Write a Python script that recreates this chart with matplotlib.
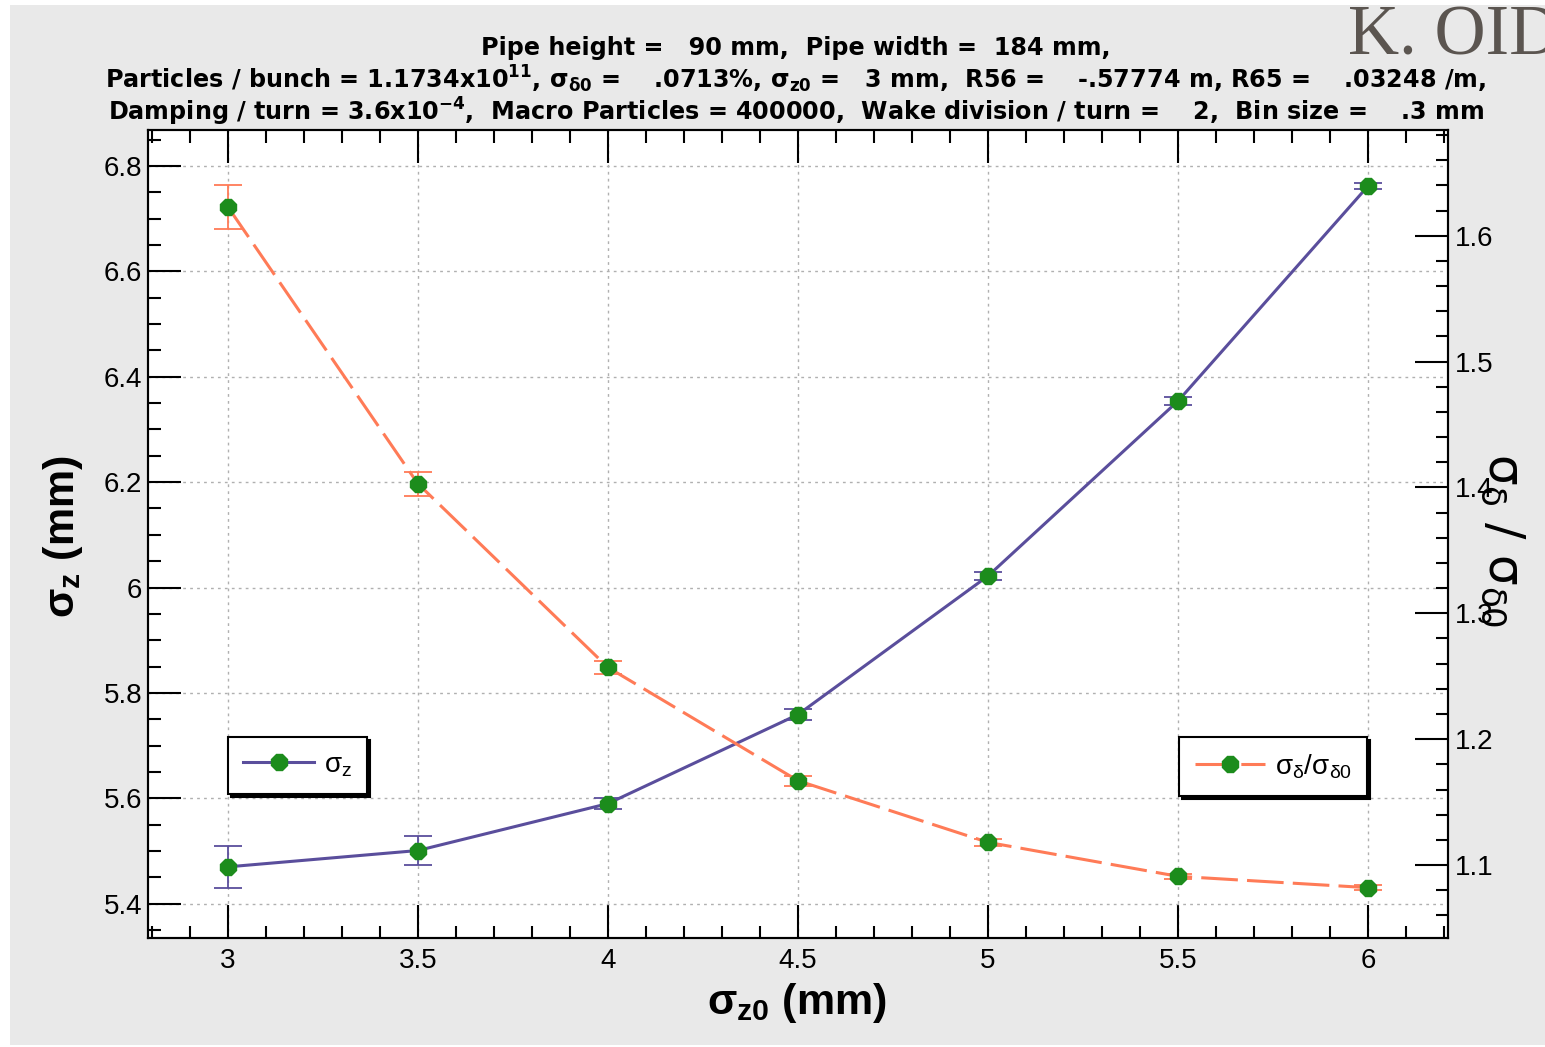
import matplotlib
matplotlib.use('Agg')
import matplotlib.pyplot as plt
from matplotlib.ticker import MultipleLocator, FormatStrFormatter
from matplotlib.patches import Rectangle

# data
sigma_z0 = [3.0, 3.5, 4.0, 4.5, 5.0, 5.5, 6.0]
sigma_z = [5.470, 5.501, 5.590, 5.759, 6.022, 6.354, 6.762]
sigma_z_err = [0.040, 0.028, 0.011, 0.010, 0.008, 0.008, 0.005]
ratio = [1.623, 1.403, 1.257, 1.167, 1.118, 1.091, 1.082]
ratio_err = [0.0175, 0.0095, 0.005, 0.004, 0.003, 0.002, 0.002]

x_ticks = [3, 3.5, 4, 4.5, 5, 5.5, 6]
x_tick_labels = ['3', '3.5', '4', '4.5', '5', '5.5', '6']

title_lines = [
    'Pipe height =   90 mm,  Pipe width =  184 mm,',
    'Particles / bunch = 1.1734x10$^{11}$, σ$_{δ0}$ =    .0713%, σ$_{z0}$ =   3 mm,  R56 =    -.57774 m, R65 =    .03248 /m,',
    'Damping / turn = 3.6x10$^{-4}$,  Macro Particles = 400000,  Wake division / turn =    2,  Bin size =    .3 mm',
]

purple = '#5a4e9c'
orange = '#ff7b57'
green = '#1c8c1c'

plt.rcParams['font.family'] = ['Liberation Sans', 'DejaVu Sans']
plt.rcParams['mathtext.fontset'] = 'custom'
plt.rcParams['mathtext.rm'] = 'Liberation Sans'
plt.rcParams['mathtext.default'] = 'regular'

fig = plt.figure(figsize=(15.45, 10.47), dpi=100)
fig.patch.set_facecolor('white')
fig.patches.append(Rectangle((0.0065, 0.002), 0.9935, 0.993, transform=fig.transFigure,
                             facecolor='#e9e9e9', edgecolor='none', zorder=-10))

ax = fig.add_axes([0.0958, 0.1041, 0.8414, 0.7717])
ax.set_facecolor('white')
ax2 = ax.twinx()

# sigma_z on left axis
ax.errorbar(sigma_z0, sigma_z, yerr=sigma_z_err, fmt='none', ecolor=purple,
            elinewidth=1.3, capsize=10, capthick=1.3, zorder=3)
l1, = ax.plot(sigma_z0, sigma_z, color=purple, lw=2.2, marker='8', ms=13,
              mfc=green, mec=green, zorder=4, label='σ$_z$')

# ratio on right axis
ax2.errorbar(sigma_z0, ratio, yerr=ratio_err, fmt='none', ecolor=orange,
             elinewidth=1.3, capsize=10, capthick=1.3, zorder=3)
l2, = ax2.plot(sigma_z0, ratio, color=orange, lw=2.2, ls=(0, (12, 3)), marker='8', ms=13,
               mfc=green, mec=green, zorder=4, label='σ$_δ$/σ$_{δ0}$')

ax.set_xlim(2.79, 6.21)
ax.set_ylim(5.335, 6.868)
ax2.set_ylim(1.042, 1.684)

ax.set_xticks(x_ticks)
ax.set_xticklabels(x_tick_labels)
ax.xaxis.set_minor_locator(MultipleLocator(0.1))
ax.yaxis.set_major_locator(MultipleLocator(0.2))
ax.yaxis.set_minor_locator(MultipleLocator(0.05))
ax.yaxis.set_major_formatter(FormatStrFormatter('%g'))
ax2.yaxis.set_major_locator(MultipleLocator(0.1))
ax2.yaxis.set_minor_locator(MultipleLocator(0.02))
ax2.yaxis.set_major_formatter(FormatStrFormatter('%g'))

ax.tick_params(which='both', direction='in', top=True, right=False, width=1.5, color='black')
ax.tick_params(which='major', length=24, labelsize=20)
ax.tick_params(which='minor', length=9)
ax.tick_params(axis='x', which='major', pad=7)
ax.tick_params(axis='y', which='major', pad=4)
ax2.tick_params(which='both', direction='in', width=1.5)
ax2.tick_params(which='major', length=24, labelsize=20, pad=5)
ax2.tick_params(which='minor', length=9)

ax.grid(True, which='major', color='#b0b0b0', ls=(0, (2, 3)), lw=1)
for a in (ax, ax2):
    for s in a.spines.values():
        s.set_linewidth(1.5)

# labels
fig.text(0.041, 0.488, 'σ$_z$ (mm)', rotation=90, ha='center', va='center',
         fontsize=31, fontweight='bold')
fig.text(0.516, 0.042, 'σ$_{z0}$ (mm)', ha='center', va='center',
         fontsize=31, fontweight='bold')
# the reference draws this label over the right tick labels
fig.text(0.973, 0.484, 'σ$_δ$ / σ$_{δ0}$', rotation=270, ha='center', va='center',
         fontsize=35, family='DejaVu Sans')

title_y = [0.954, 0.924, 0.893]
for line, yy in zip(title_lines, title_y):
    fig.text(0.515, yy, line, ha='center', va='center', fontsize=17.2,
             fontweight='bold', family='DejaVu Sans')

# watermark, cut off at the right edge as in the reference
fig.text(0.8725, 0.9475, 'K. OID', ha='left', va='baseline', fontsize=51,
         family='Liberation Serif', color='#5b5550')

# legends
shadow = {'color': 'black', 'alpha': 1}
leg1 = ax.legend(handles=[l1], loc='upper left', bbox_to_anchor=(0.0615, 0.249),
                 borderaxespad=0, fontsize=20, fancybox=False, edgecolor='black',
                 framealpha=1, shadow=shadow, handlelength=2.55, handletextpad=0.35,
                 borderpad=0.55)
leg1.get_frame().set_linewidth(1.5)
leg2 = ax2.legend(handles=[l2], loc='upper right', bbox_to_anchor=(0.938, 0.249),
                  borderaxespad=0, fontsize=20, fancybox=False, edgecolor='black',
                  framealpha=1, shadow=shadow, handlelength=2.55, handletextpad=0.35,
                  borderpad=0.55)
leg2.get_frame().set_linewidth(1.5)

fig.savefig('out.png', dpi=100)
